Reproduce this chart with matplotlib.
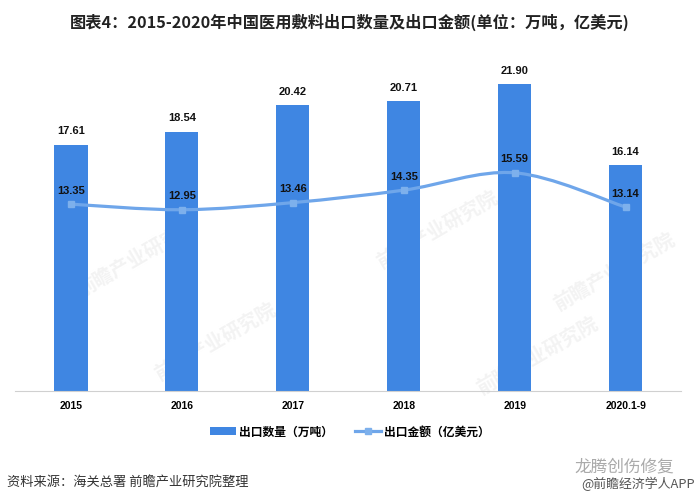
import matplotlib.pyplot as plt
from matplotlib.path import Path
from matplotlib.patches import PathPatch, Patch
from matplotlib.lines import Line2D
import numpy as np

plt.rcParams['font.family'] = ['Liberation Sans', 'Noto Sans CJK SC', 'DejaVu Sans']
cjk = ['Noto Sans CJK SC', 'DejaVu Sans']

# data
years = ['2015', '2016', '2017', '2018', '2019', '2020.1-9']
qty = [17.61, 18.54, 20.42, 20.71, 21.90, 16.14]      # 出口数量（万吨）
amount = [13.35, 12.95, 13.46, 14.35, 15.59, 13.14]   # 出口金额（亿美元）

bar_color = '#3F86E2'
line_color = '#6FA6EA'

fig = plt.figure(figsize=(7, 5.01), dpi=100)
ax = fig.add_axes([0.022, 0.2196, 0.951, 0.6704])

x = np.arange(len(years))
ax.bar(x, qty, width=0.3, color=bar_color, zorder=2)

# smoothed line (catmull-rom -> bezier)
pts = np.column_stack([x, amount]).astype(float)
ext = np.vstack([pts[0], pts, pts[-1]])
verts = [tuple(pts[0])]
codes = [Path.MOVETO]
for i in range(1, len(ext) - 2):
    p0, p1, p2, p3 = ext[i - 1], ext[i], ext[i + 1], ext[i + 2]
    c1 = p1 + (p2 - p0) / 6
    c2 = p2 - (p3 - p1) / 6
    verts += [tuple(c1), tuple(c2), tuple(p2)]
    codes += [Path.CURVE4] * 3
ax.add_patch(PathPatch(Path(verts, codes), facecolor='none', edgecolor=line_color,
                       lw=2.3, zorder=3))
ax.plot(x, amount, ls='none', marker='s', ms=5, color='#7DB0EC', zorder=4)

for xi, v in zip(x, qty):
    ax.annotate(f'{v:.2f}', (xi, v), xytext=(0, 6), textcoords='offset points',
                ha='center', va='bottom', fontsize=8, fontweight='bold', color='#111111')
for xi, v in zip(x, amount):
    ax.annotate(f'{v:.2f}', (xi, v), xytext=(0, 6), textcoords='offset points',
                ha='center', va='bottom', fontsize=8, fontweight='bold', color='#111111',
                zorder=5)

ax.set_xlim(-0.5, 5.5)
ax.set_ylim(0, 24)
ax.set_yticks([])
ax.set_xticks(x)
ax.set_xticklabels(years, fontsize=7.5, fontweight='bold')
ax.tick_params(axis='x', length=0, pad=7)
for s in ['top', 'right', 'left']:
    ax.spines[s].set_visible(False)
ax.spines['bottom'].set_color('#D0D0D0')

# faint watermarks
for wx, wy in [(0.6, 9.5), (3.3, 11.5), (4.9, 8.5), (1.3, 3.5), (4.2, 2.5)]:
    ax.text(wx, wy, '前瞻产业研究院', family=cjk, fontsize=14, fontweight='bold',
            color='#F3F3F3', rotation=30, ha='center', va='center', zorder=1)

fig.text(0.5, 0.956, '图表4：2015-2020年中国医用敷料出口数量及出口金额(单位：万吨，亿美元)',
         ha='center', va='center', fontsize=11.7, fontweight='bold', family=cjk,
         color='#222222')

handles = [Patch(facecolor=bar_color),
           Line2D([], [], color=line_color, lw=2.3, marker='s', ms=5,
                  markerfacecolor='#7DB0EC', markeredgecolor='#7DB0EC')]
fig.legend(handles, ['出口数量（万吨）', '出口金额（亿美元）'], loc='center',
           bbox_to_anchor=(0.5, 0.138), ncol=2, frameon=False, handlelength=2.2,
           handleheight=0.6, columnspacing=1.8, handletextpad=0.3,
           prop={'family': cjk, 'size': 8.5, 'weight': 'bold'})

fig.text(0.01, 0.038, '资料来源：海关总署 前瞻产业研究院整理', family=cjk, fontsize=9.5,
         color='#333333', va='center')
fig.text(0.821, 0.068, '龙腾创伤修复', family=cjk, fontsize=12, color='#AAAAAA', va='center')
fig.text(0.831, 0.034, '@前瞻经济学人APP', family=cjk, fontsize=9.3, color='#555555',
         va='center')

plt.savefig('out.png', dpi=100)
